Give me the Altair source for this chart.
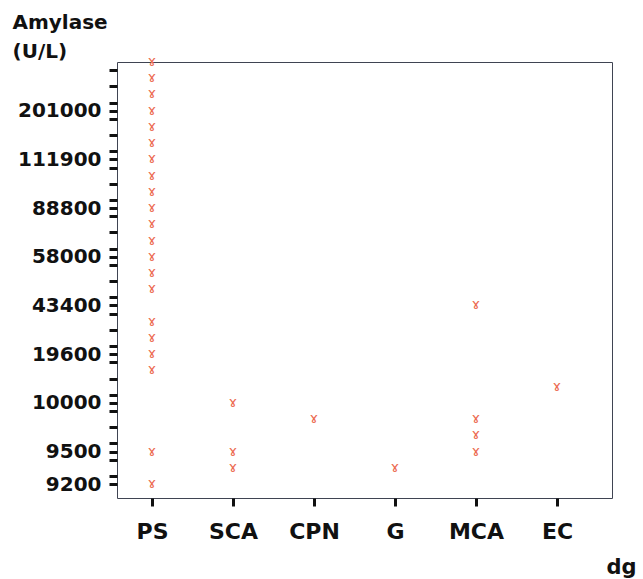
import altair as alt
import pandas as pd

# Diagnostic groups along the x axis
groups = ["PS", "SCA", "CPN", "G", "MCA", "EC"]

# Amylase (U/L) observations per group
ps_amylase = [9200, 9500, 16800, 19600, 24000, 31000, 47000, 52000, 58000,
              66000, 79000, 88800, 95000, 103000, 111900, 135000, 168000,
              201000, 240000, 285000, 330000]
sca_amylase = [9400, 9500, 10000]
cpn_amylase = [9800]
g_amylase = [9400]
mca_amylase = [9500, 9600, 9800, 43400]
ec_amylase = [15000]

# Values printed on the y axis
labeled_values = [9200, 9500, 10000, 19600, 43400, 58000, 88800, 111900, 201000]

series = [ps_amylase, sca_amylase, cpn_amylase, g_amylase, mca_amylase, ec_amylase]
rows = []
for gi, (g, vals) in enumerate(zip(groups, series)):
    for v in vals:
        rows.append({"dg": g, "gidx": gi, "amylase": v})
df = pd.DataFrame(rows)

# The y axis is ordinal: each distinct value gets its own evenly spaced slot
levels = sorted(df["amylase"].unique())
rank_of = {v: i for i, v in enumerate(levels)}
df["rank"] = df["amylase"].map(rank_of)
n = len(levels)

label_ranks = [rank_of[v] for v in labeled_values]
tick_values = sorted(set([r + 0.5 for r in range(n - 1)] + label_ranks))

y_expr = "''"
for v in reversed(labeled_values):
    y_expr = f"datum.value == {rank_of[v]} ? '{v}' : ({y_expr})"

x_expr = "''"
for i in reversed(range(len(groups))):
    x_expr = f"datum.value == {i} ? '{groups[i]}' : ({x_expr})"

FONT = "DejaVu Sans"

chart = alt.Chart(df).mark_text(
    text="ɤ", fontSize=14, color="#ec6a50", font=FONT, baseline="middle"
).encode(
    x=alt.X(
        "gidx:Q",
        scale=alt.Scale(domain=[-0.432, 5.679], nice=False, zero=False),
        axis=alt.Axis(
            values=list(range(len(groups))),
            labelExpr=x_expr,
            title="dg",
            grid=False,
            domain=False,
            tickColor="#111",
            tickWidth=3,
            tickSize=8,
            labelFont=FONT,
            labelFontSize=22,
            labelFontWeight="bold",
            labelColor="#111",
            labelPadding=15,
            labelFlush=False,
            titleFont=FONT,
            titleFontSize=21,
            titleFontWeight="bold",
            titleColor="#111",
            titleAnchor="end",
            titleAlign="right",
            titleBaseline="alphabetic",
            titleX=519,
            titleY=75,
        ),
    ),
    y=alt.Y(
        "rank:Q",
        scale=alt.Scale(domain=[-0.86, n - 1], nice=False, zero=False),
        axis=alt.Axis(
            values=tick_values,
            labelExpr=y_expr,
            title=["Amylase", "(U/L)"],
            grid=False,
            domain=False,
            tickColor="#111",
            tickWidth=3,
            tickSize=8,
            labelFont=FONT,
            labelFontSize=20,
            labelFontWeight="bold",
            labelColor="#111",
            labelPadding=8,
            labelFlush=False,
            labelOverlap=False,
            titleFont=FONT,
            titleFontSize=20,
            titleFontWeight="bold",
            titleColor="#111",
            titleAngle=0,
            titleAlign="left",
            titleBaseline="alphabetic",
            titleLineHeight=29,
            titleX=-105,
            titleY=-34,
        ),
    ),
).properties(
    width=495,
    height=436,
    autosize="none",
    background="white",
    padding={"left": 117, "top": 62, "right": 31, "bottom": 81},
).configure_view(
    stroke="#3f4452", strokeWidth=1
)

chart.save("out.html", embed_options={"renderer": "svg", "actions": False})
